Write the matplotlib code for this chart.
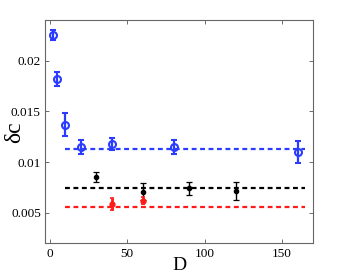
import matplotlib
matplotlib.use("Agg")
import matplotlib.pyplot as plt

# Blue series
blue_D = [2, 5, 10, 20, 40, 80, 160]
blue_dc = [0.0225, 0.0182, 0.0137, 0.0115, 0.0118, 0.0115, 0.0110]
blue_err = [0.0005, 0.0007, 0.0011, 0.0007, 0.0006, 0.0007, 0.0011]
blue_level = 0.01128

# Black series
black_D = [30, 60, 90, 120]
black_dc = [0.0085, 0.0071, 0.00745, 0.00716]
black_err = [0.0005, 0.0008, 0.00064, 0.0009]
black_level = 0.0075

# Red series
red_D = [40, 60]
red_dc = [0.0059, 0.0062]
red_err = [0.00057, 0.00035]
red_level = 0.0056

line_span = [10, 165]

xticks = [0, 50, 100, 150]
yticks = [0.005, 0.01, 0.015, 0.02]
ytick_labels = ["0.005", "0.01", "0.015", "0.02"]

plt.rcParams['font.family'] = ['Liberation Serif', 'DejaVu Serif']

fig = plt.figure(figsize=(3.46, 2.75), dpi=100)
ax = fig.add_axes([0.130, 0.115, 0.775, 0.812])

blue = '#2a3cff'
red = '#ff1a1a'

ax.plot(line_span, [blue_level]*2, '--', color=blue, lw=1.6, dashes=(2.2, 1.6))
ax.plot(line_span, [black_level]*2, '--', color='black', lw=1.6, dashes=(2.2, 1.6))
ax.plot(line_span, [red_level]*2, '--', color=red, lw=1.6, dashes=(2.2, 1.6))

ax.errorbar(blue_D, blue_dc, yerr=blue_err, fmt='o', color=blue, mfc='none',
            mec=blue, ms=5, mew=1.5, elinewidth=1.6, capsize=2.5, capthick=1.3)
ax.errorbar(black_D, black_dc, yerr=black_err, fmt='o', color='black',
            ms=3, elinewidth=1.0, capsize=2, capthick=0.9)
ax.errorbar(red_D, red_dc, yerr=red_err, fmt='o', color=red,
            ms=3.5, elinewidth=2.0, capsize=1.5, capthick=1.2)

ax.set_xlim(-3, 170)
ax.set_ylim(0.002, 0.024)
ax.set_xticks(xticks)
ax.set_xticklabels([str(t) for t in xticks])
ax.set_yticks(yticks)
ax.set_yticklabels(ytick_labels)
ax.tick_params(direction='in', top=True, right=True, labelsize=9.5, length=3,
               width=0.6, color='#555555', pad=3)
for s in ax.spines.values():
    s.set_color('#666666')
    s.set_linewidth(0.8)

ax.set_xlabel('D', fontsize=14, labelpad=-2)
ax.set_ylabel('δc', fontsize=17)
ax.yaxis.set_label_coords(-0.075, 0.5)

fig.savefig('out.png', dpi=100)
